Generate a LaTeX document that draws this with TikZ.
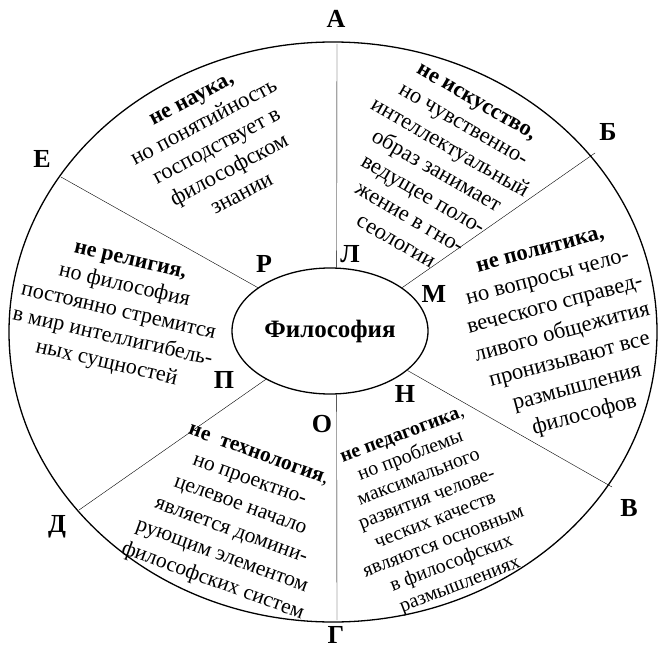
\documentclass[tikz,border=0pt]{standalone}
\usepackage{fontspec}
\setmainfont{Liberation Serif}
\usetikzlibrary{shapes.geometric}
\begin{document}
\begin{tikzpicture}[x=1pt, y=-1pt,
  sector/.style={align=center, inner sep=0pt, font=\fontsize{22.5}{27}\selectfont},
  small sector/.style={sector, font=\fontsize{20}{23}\selectfont},
  letter/.style={inner sep=0pt, font=\fontsize{26}{26}\selectfont\bfseries}]
  \useasboundingbox (0,0) rectangle (658,650);

  % --- внешний круг ---
  \draw[line width=1.3pt] (333,332) ellipse [x radius=324, y radius=290];

  % --- центр ---
  \node[draw, ellipse, line width=1.3pt, minimum width=196pt, minimum height=126pt,
        inner sep=0pt, font=\fontsize{25}{25}\selectfont\bfseries] (phil) at (330,331) {Философия};

  % точки на внешнем круге
  \coordinate (pA) at (337,44);
  \coordinate (pB) at (595,153);
  \coordinate (pV) at (612,487);
  \coordinate (pG) at (337,620);
  \coordinate (pD) at (79,510);
  \coordinate (pE) at (61,177);

  % радиальные линии
  \draw (phil.84)  -- (pA);
  \draw (phil.31)  -- (pB);
  \draw (phil.-27) -- (pV);
  \draw (phil.-84) -- (pG);
  \draw (phil.217) -- (pD);
  \draw (phil.149.5) -- (pE);

  % буквы снаружи
  \node[letter] (lA) at (336,19)  {А};
  \node[letter] (lB) at (608,132) {Б};
  \node[letter] (lV) at (629,508) {В};
  \node[letter] (lG) at (336,635) {Г};
  \node[letter] (lD) at (57,527)  {Д};
  \node[letter] (lE) at (42,159)  {Е};

  % буквы у центра
  \node[letter] (lR) at (264,264) {Р};
  \node[letter] (lL) at (350,254) {Л};
  \node[letter] (lM) at (434,294) {М};
  \node[letter] (lN) at (405,394) {Н};
  \node[letter] (lO) at (322,424) {О};
  \node[letter] (lP) at (224,380) {П};

  % --- тексты секторов ---
  \node[sector, rotate=28] (nauka) at (217,147)
    {\textbf{не наука,}\\но понятийность\\господствует в\\философском\\знании};
  \node[sector, rotate=-30] (iskusstvo) at (436,172)
    {\textbf{не искусство,}\\но чувственно-\\интеллектуальный\\образ занимает\\ведущее поло-\\жение в гно-\\сеологии};
  \node[sector, rotate=15, font=\fontsize{22.5}{28.5}\selectfont] (politika) at (563,335)
    {\textbf{не политика,}\\но вопросы чело-\\веческого справед-\\ливого общежития\\пронизывают все\\размышления\\философов};
  \node[small sector, rotate=21] (pedagogika) at (432,512)
    {\textbf{не педагогика},\\но проблемы\\максимального\\развития челове-\\ческих качеств\\являются основным\\в философских\\размышлениях};
  \node[sector, rotate=-20, font=\fontsize{21.5}{27}\selectfont] (tehnologia) at (235,520)
    {\textbf{не\ \ технология},\\но проектно-\\целевое начало\\является домини-\\рующим элементом\\философских систем};
  \node[sector, rotate=-13, font=\fontsize{22}{26.5}\selectfont] (religia) at (118,314)
    {\textbf{не религия,}\\но философия\\постоянно стремится\\в мир интеллигибель-\\ных сущностей};
\end{tikzpicture}
\end{document}
